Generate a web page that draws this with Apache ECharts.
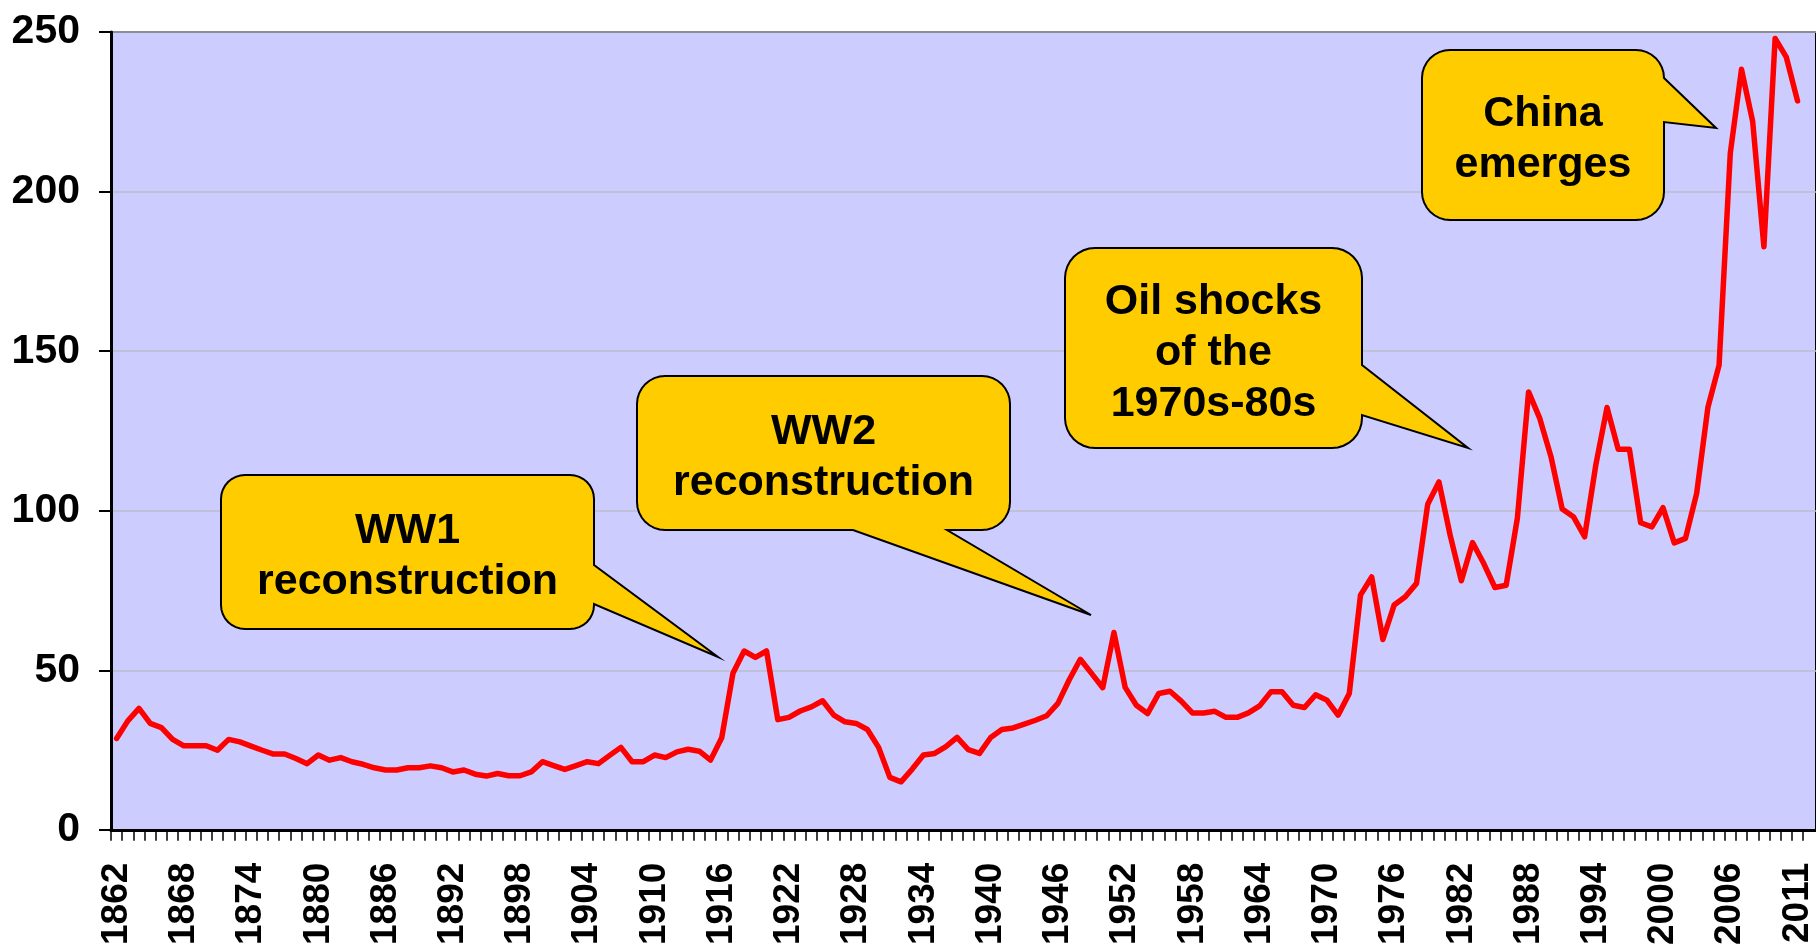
<!DOCTYPE html>
<html>
<head>
<meta charset="utf-8">
<script src="https://cdn.jsdelivr.net/npm/echarts@6/dist/echarts.min.js"></script>
<style>
  html, body { margin: 0; padding: 0; background: #fff; }
  #chart { width: 1816px; height: 948px; }
</style>
</head>
<body>
<div id="chart"></div>
<script>
const years = [
  '1862','1863','1864','1865','1866','1867','1868','1869','1870','1871','1872','1873','1874','1875','1876','1877','1878','1879','1880','1881',
  '1882','1883','1884','1885','1886','1887','1888','1889','1890','1891','1892','1893','1894','1895','1896','1897','1898','1899','1900','1901',
  '1902','1903','1904','1905','1906','1907','1908','1909','1910','1911','1912','1913','1914','1915','1916','1917','1918','1919','1920','1921',
  '1922','1923','1924','1925','1926','1927','1928','1929','1930','1931','1932','1933','1934','1935','1936','1937','1938','1939','1940','1941',
  '1942','1943','1944','1945','1946','1947','1948','1949','1950','1951','1952','1953','1954','1955','1956','1957','1958','1959','1960','1961',
  '1962','1963','1964','1965','1966','1967','1968','1969','1970','1971','1972','1973','1974','1975','1976','1977','1978','1979','1980','1981',
  '1982','1983','1984','1985','1986','1987','1988','1989','1990','1991','1992','1993','1994','1995','1996','1997','1998','1999','2000','2001',
  '2002','2003','2004','2005','2006','2007','2008','2008','2009','2010','2011'
]

const values = [
  28.6, 34.1, 38.0, 33.3, 32.0, 28.3, 26.3, 26.3, 26.3, 24.9, 28.3, 27.5, 26.2, 24.9, 23.7, 23.7, 22.3, 20.7, 23.4, 21.8,
  22.6, 21.3, 20.5, 19.4, 18.7, 18.7, 19.4, 19.4, 20.0, 19.4, 18.1, 18.7, 17.4, 16.8, 17.6, 16.9, 16.9, 18.1, 21.3, 20.1,
  18.9, 20.1, 21.3, 20.7, 23.3, 25.8, 21.3, 21.3, 23.4, 22.6, 24.4, 25.2, 24.6, 21.8, 28.8, 49.0, 56.0, 54.0, 56.0, 34.5,
  35.2, 37.2, 38.5, 40.4, 35.9, 33.8, 33.3, 31.4, 25.8, 16.4, 15.0, 19.0, 23.4, 23.9, 26.0, 28.9, 25.1, 23.9, 28.9, 31.4,
  31.9, 33.1, 34.3, 35.7, 39.6, 46.9, 53.4, 49.0, 44.5, 61.8, 44.6, 39.0, 36.4, 42.7, 43.4, 40.3, 36.6, 36.6, 37.1, 35.2,
  35.2, 36.6, 38.8, 43.2, 43.2, 39.0, 38.3, 42.3, 40.6, 35.9, 42.7, 73.5, 79.2, 59.6, 70.4, 73.0, 77.2, 102.0, 109.0, 92.3,
  78.0, 90.0, 83.4, 75.9, 76.6, 97.6, 137.2, 128.9, 116.9, 100.5, 98.1, 91.8, 114.3, 132.3, 119.2, 119.2, 96.2, 94.9, 100.9, 89.9,
  91.3, 105.4, 132.3, 145.6, 212.0, 238.3, 221.9, 182.7, 248.0, 242.1, 228.4
]

const yTicks = [0, 50, 100, 150, 200, 250]
const labelStep = 6

const notes = [
  { text: 'WW1\nreconstruction', box: [221, 475, 373, 154, 24], side: 'right', base: [565, 604], tip: [718, 657] },
  { text: 'WW2\nreconstruction', box: [637, 376, 373, 154, 28], side: 'bottom', base: [853, 947], tip: [1091, 615] },
  { text: 'Oil shocks\nof the\n1970s-80s', box: [1065, 248, 297, 200, 30], side: 'right', base: [365, 415], tip: [1468, 448] },
  { text: 'China\nemerges', box: [1422, 50, 242, 170, 28], side: 'right', base: [78, 122], tip: [1716, 128] }
]

const FONT = '"Liberation Sans", Arial, sans-serif'

// quarter arc around a corner centre, from angle a0 to a1
function arc(cx, cy, r, a0, a1) {
  const pts = []
  for (let k = 0; k <= 8; k++) {
    const a = a0 + (a1 - a0) * k / 8
    pts.push([cx + r * Math.cos(a), cy + r * Math.sin(a)])
  }
  return pts
}

function calloutPoints(n) {
  const [x, y, w, h, r] = n.box
  const R = x + w, B = y + h, P = Math.PI
  let pts = []
  pts = pts.concat(arc(R - r, y + r, r, -P / 2, 0))
  if (n.side === 'right') pts.push([R, n.base[0]], n.tip, [R, n.base[1]])
  pts = pts.concat(arc(R - r, B - r, r, 0, P / 2))
  if (n.side === 'bottom') pts.push([n.base[1], B], n.tip, [n.base[0], B])
  pts = pts.concat(arc(x + r, B - r, r, P / 2, P))
  pts = pts.concat(arc(x + r, y + r, r, P, P * 1.5))
  return pts
}

function noteGraphics() {
  const out = []
  notes.forEach(n => {
    const [x, y, w, h] = n.box
    out.push({
      type: 'polygon', z: 100,
      shape: { points: calloutPoints(n) },
      style: { fill: '#FFCC00', stroke: '#000', lineWidth: 2, lineJoin: 'miter' }
    })
    out.push({
      type: 'text', z: 101,
      x: x + w / 2, y: y + h / 2 + 5,
      style: {
        text: n.text, fill: '#000', font: `bold 43px ${FONT}`,
        align: 'center', verticalAlign: 'middle', lineHeight: 51
      }
    })
  })
  return out
}

const chart = echarts.init(document.getElementById('chart'))

const option = {
  backgroundColor: '#fff',
  animation: false,
  grid: [
    { left: 111, top: 32, right: -20, bottom: 118, show: true, backgroundColor: '#CCCCFF', borderColor: '#000', borderWidth: 2, containLabel: false },
    { left: 111, top: 32, width: 1700, bottom: 118, containLabel: false }
  ],
  xAxis: [
    {
      type: 'value', gridIndex: 0, min: 0, max: 1,
      axisLine: { show: true, onZero: false, lineStyle: { color: '#000', width: 3 } },
      axisTick: { show: false }, axisLabel: { show: false }, splitLine: { show: false }
    },
    {
      type: 'category', gridIndex: 1, data: years, boundaryGap: true,
      axisLine: { show: false },
      axisTick: { show: true, interval: 0, length: 11, lineStyle: { color: '#000', width: 1.5 } },
      axisLabel: {
        interval: (index) => index % labelStep === 0 || index === years.length - 1,
        rotate: 90, margin: 33, color: '#000',
        fontFamily: FONT, fontWeight: 'bold', fontSize: 37
      },
      splitLine: { show: false }
    }
  ],
  yAxis: [
    {
      type: 'value', gridIndex: 0, min: yTicks[0], max: yTicks[yTicks.length - 1], interval: yTicks[1] - yTicks[0],
      axisLine: { show: true, lineStyle: { color: '#000', width: 3 } },
      axisTick: { show: true, length: 12, lineStyle: { color: '#000', width: 2 } },
      axisLabel: { margin: 31, color: '#000', fontFamily: FONT, fontWeight: 'bold', fontSize: 41 },
      splitLine: { show: true, lineStyle: { color: '#BDBDC8', width: 1.5 } }
    },
    {
      type: 'value', gridIndex: 1, min: yTicks[0], max: yTicks[yTicks.length - 1], show: false
    }
  ],
  series: [{
    type: 'line', xAxisIndex: 1, yAxisIndex: 1,
    data: values, symbol: 'none', smooth: false, z: 10,
    lineStyle: { color: '#FF0000', width: 5.5, cap: 'round', join: 'round' }
  }],
  graphic: noteGraphics()
}

chart.setOption(option)
</script>
</body>
</html>
